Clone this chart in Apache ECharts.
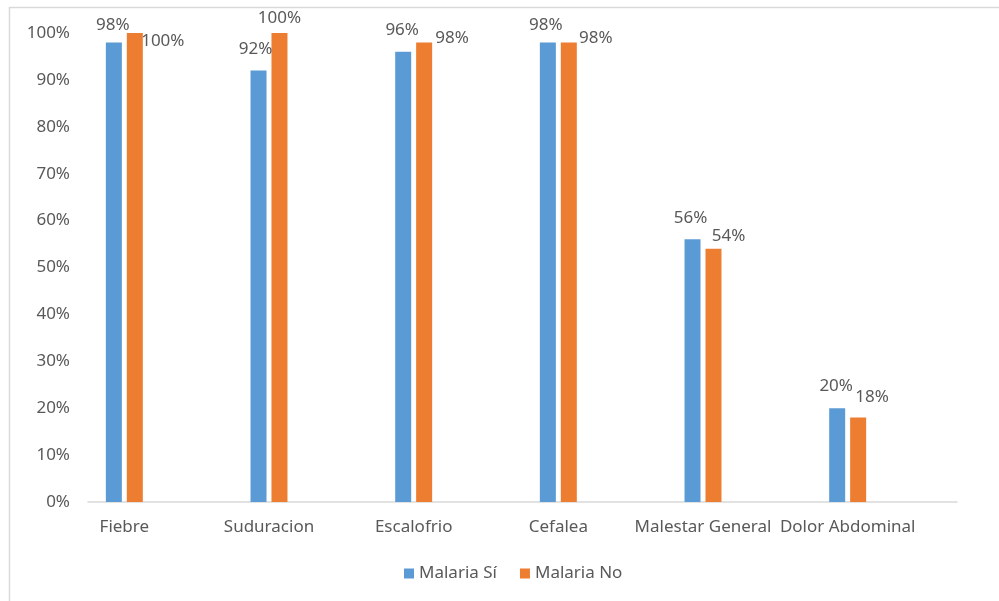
<!DOCTYPE html>
<html>
<head>
<meta charset="utf-8">
<script src="https://cdn.jsdelivr.net/npm/echarts@6/dist/echarts.min.js"></script>
<style>html,body{margin:0;padding:0;background:#fff}#c{width:999px;height:601px}</style>
</head>
<body>
<div id="c"></div>
<script>
const categories = ['Fiebre', 'Suduracion', 'Escalofrio', 'Cefalea', 'Malestar General', 'Dolor Abdominal'];
const malariaSi = [98, 92, 96, 98, 56, 20];
const malariaNo = [100, 100, 98, 98, 54, 18];
const seriesNames = ['Malaria Sí', 'Malaria No'];
const yTicks = { min: 0, max: 100, interval: 10 };

// label placement (style only)
const offsetsSi = [[-1, -4], [-3, -8], [-1, -8], [-2, -4], [-2, -8], [-1, -9]];
const offsetsNo = [[28, 22], [0, -1], [28, 9], [27, 9], [15, 1], [14, -7]];

const FONT = 'Noto Sans';
const FS = 17;
const TXT = '#595959';

function mk(vals, offs) {
  return vals.map((v, i) => ({ value: v, label: { offset: offs[i] } }));
}

const chart = echarts.init(document.getElementById('c'), null, { renderer: 'canvas' });
chart.setOption({
  animation: false,
  textStyle: { fontFamily: FONT },
  graphic: [{
    type: 'rect', shape: { x: 9.5, y: 7.5, width: 1000, height: 600 },
    style: { fill: 'none', stroke: '#d9d9d9', lineWidth: 1.5 }, silent: true, z: -1
  }],
  grid: [
    { left: 52, right: 79, top: 33, bottom: 99 },
    { left: 88, right: 42, top: 33, bottom: 99 }
  ],
  xAxis: [
    {
      type: 'category', gridIndex: 0, data: categories,
      axisLine: { show: false }, axisTick: { show: false },
      axisLabel: { color: TXT, fontSize: FS, fontFamily: FONT, margin: 17, interval: 0 }
    },
    {
      type: 'value', gridIndex: 1, min: 0, max: 1,
      axisLine: { show: true, lineStyle: { color: '#d9d9d9', width: 1.5 } },
      axisTick: { show: false }, axisLabel: { show: false }, splitLine: { show: false }
    }
  ],
  yAxis: [
    {
      type: 'value', gridIndex: 0, min: yTicks.min, max: yTicks.max, interval: yTicks.interval,
      show: false, splitLine: { show: false }
    },
    {
      type: 'value', gridIndex: 1, min: yTicks.min, max: yTicks.max, interval: yTicks.interval,
      axisLine: { show: false }, axisTick: { show: false }, splitLine: { show: false },
      axisLabel: { color: TXT, fontSize: FS, fontFamily: FONT, margin: 18, formatter: '{value}%' }
    }
  ],
  legend: {
    bottom: 14, left: 399, itemWidth: 10, itemHeight: 10, itemGap: 23,
    icon: 'rect', textStyle: { color: TXT, fontSize: FS, fontFamily: FONT },
    data: seriesNames
  },
  series: [
    {
      name: seriesNames[0], type: 'bar', xAxisIndex: 0, yAxisIndex: 0,
      data: mk(malariaSi, offsetsSi), barWidth: 16, barGap: '31%',
      itemStyle: { color: '#5B9BD5' },
      label: { show: true, position: 'top', distance: 5, color: TXT, fontSize: FS, fontFamily: FONT, formatter: '{c}%' }
    },
    {
      name: seriesNames[1], type: 'bar', xAxisIndex: 0, yAxisIndex: 0,
      data: mk(malariaNo, offsetsNo), barWidth: 16, barGap: '31%',
      itemStyle: { color: '#ED7D31' },
      label: { show: true, position: 'top', distance: 5, color: TXT, fontSize: FS, fontFamily: FONT, formatter: '{c}%' }
    }
  ]
});
</script>
</body>
</html>
